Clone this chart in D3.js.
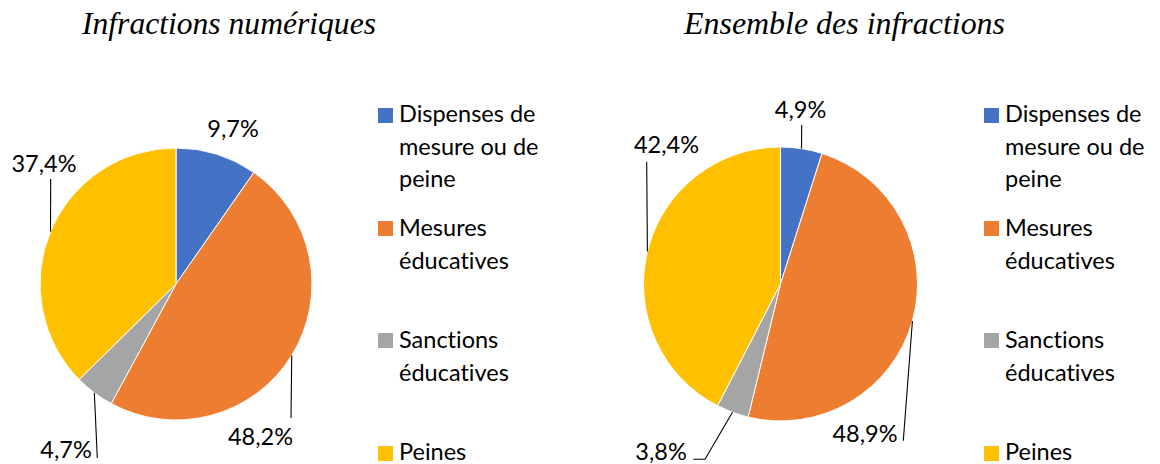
<!DOCTYPE html>
<html><head><meta charset="utf-8">
<script src="https://cdn.jsdelivr.net/npm/d3@7"></script>
<style>html,body{margin:0;padding:0;background:#fff;} text{font-variant-ligatures:none;font-feature-settings:"liga" 0,"clig" 0;}</style>
</head><body>
<svg id="c" width="1160" height="464"></svg>
<script>
// ---- data ----
const categories = ["Dispenses de mesure ou de peine", "Mesures éducatives", "Sanctions éducatives", "Peines"];
const legendLines = [["Dispenses de", "mesure ou de", "peine"], ["Mesures", "éducatives"], ["Sanctions", "éducatives"], ["Peines"]];
const titles = ["Infractions numériques", "Ensemble des infractions"];
const valuesNumeriques = [9.7, 48.2, 4.7, 37.4];
const valuesEnsemble = [4.9, 48.9, 3.8, 42.4];
const colors = ["#4472C4", "#ED7D31", "#A5A5A5", "#FFC000"];

// ---- layout (positions relative to pie centre) ----
const panels = [
  { values: valuesNumeriques, cx: 176, cy: 284, r: 136, titleX: 229, titleW: 294, legendX: 378,
    labels: [
      { x: 57, y: -147, leader: null },
      { x: 84.5, y: 161, leader: [[115, 134]] },
      { x: -110, y: 174, leader: [[-78.7, 174]] },
      { x: -132, y: -112, leader: [[-125.3, -105]] }
    ] },
  { values: valuesEnsemble, cx: 780.5, cy: 284, r: 137, titleX: 844.5, titleW: 321, legendX: 984,
    labels: [
      { x: 20, y: -166, leader: [[21.2, -159]] },
      { x: 84.5, y: 158, leader: [[122.8, 156.7]] },
      { x: -119.5, y: 176, leader: [[-75.5, 175.3], [-87.2, 175.3]] },
      { x: -114, y: -131, leader: [[-133.8, -122.3]] }
    ] }
];
const legendRows = [[108, 122], [221, 236], [333, 348], [446, 460]]; // square top, first baseline

const svg = d3.select("#c");
const pie = d3.pie().sort(null).value(d => d);
const fmt = v => d3.format(".1f")(v).replace(".", ",") + "%";
const labelFont = "Lato, 'Open Sans', sans-serif";
const fontSize = 23.5;

panels.forEach((p, pi) => {
  const g = svg.append("g").attr("transform", `translate(${p.cx},${p.cy})`);
  const arc = d3.arc().innerRadius(0).outerRadius(p.r);
  const arcs = pie(p.values);
  g.selectAll("path.slice").data(arcs).join("path")
    .attr("class", "slice")
    .attr("d", arc)
    .attr("fill", (d, i) => colors[i])
    .attr("stroke", "#fff").attr("stroke-width", 1);

  arcs.forEach((a, i) => {
    const L = p.labels[i];
    const mid = (a.startAngle + a.endAngle) / 2;
    const sx = p.r * Math.sin(mid), sy = -p.r * Math.cos(mid);
    if (L.leader) {
      const pts = [[sx, sy]].concat(L.leader);
      g.append("path")
        .attr("d", d3.line()(pts))
        .attr("fill", "none").attr("stroke", "#000").attr("stroke-width", 1.1);
    }
    g.append("text")
      .attr("x", L.x).attr("y", L.y)
      .attr("text-anchor", "middle")
      .attr("font-family", labelFont).attr("font-size", fontSize)
      .attr("fill", "#000")
      .text(fmt(p.values[i]));
  });

  svg.append("text")
    .attr("x", p.titleX).attr("y", 34)
    .attr("text-anchor", "middle")
    .attr("font-family", "'Liberation Serif', 'DejaVu Serif', serif")
    .attr("font-style", "italic").attr("font-size", 31)
    .attr("textLength", p.titleW).attr("lengthAdjust", "spacingAndGlyphs")
    .attr("fill", "#000")
    .text(titles[pi]);

  const lg = svg.append("g");
  categories.forEach((c, i) => {
    lg.append("rect")
      .attr("x", p.legendX).attr("y", legendRows[i][0])
      .attr("width", 15).attr("height", 15)
      .attr("fill", colors[i]);
    const t = lg.append("text")
      .attr("font-family", labelFont).attr("font-size", fontSize).attr("fill", "#000");
    legendLines[i].forEach((line, k) => {
      t.append("tspan").attr("x", p.legendX + 21).attr("y", legendRows[i][1] + k * 32.5).text(line);
    });
  });
});
</script>
</body></html>
